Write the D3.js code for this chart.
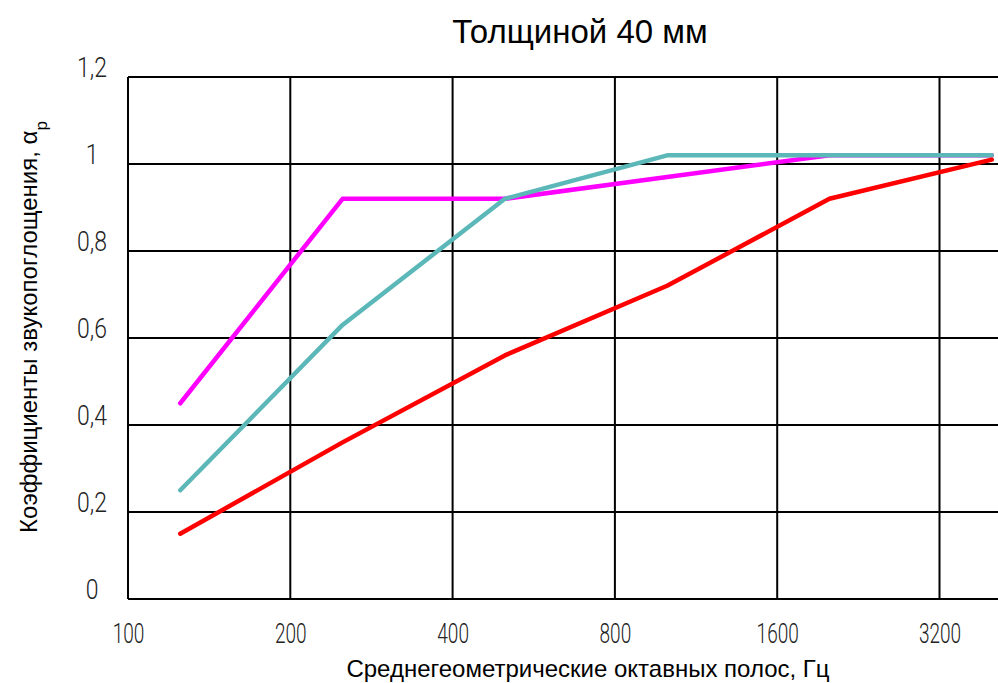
<!DOCTYPE html>
<html>
<head>
<meta charset="utf-8">
<script src="https://cdn.jsdelivr.net/npm/d3@7"></script>
<style>
  body { margin: 0; background: #fff; }
  svg { display: block; }
  .tick text { font-family: "Roboto", sans-serif; font-weight: 300; font-size: 28px; fill: #222; }
</style>
</head>
<body>
<svg></svg>
<script>
// frequencies, Hz
var freqs = [125, 250, 500, 1000, 2000, 4000];
var magentaVals = [0.45, 0.92, 0.92, 0.97, 1.02, 1.02];
var cyanVals = [0.25, 0.63, 0.92, 1.02, 1.02, 1.02];
var redVals = [0.15, 0.36, 0.56, 0.72, 0.92, 1.01];
var xTicks = [100, 200, 400, 800, 1600, 3200];
var yTicks = [0, 0.2, 0.4, 0.6, 0.8, 1, 1.2];

var svgwidth = 998;
var svgheight = 683;

var svg = d3.select('svg').attr('width', svgwidth).attr('height', svgheight);

var margins = { top: 77, bottom: 84, left: 128 };
var octave = 162.3;

var xScale = d3.scaleLog()
               .base(2)
               .domain([100, 6400])
               .range([margins.left, margins.left + 6 * octave]);

var yScale = d3.scaleLinear()
               .domain([0, 1.2])
               .range([svgheight - margins.bottom, margins.top]);

var fmt = function(d){ return String(d).replace('.', ','); };

// grid
var grid = svg.append('g').classed('grid', true);
grid.selectAll('line.h')
    .data(yTicks)
    .enter().append('line')
    .attr('x1', margins.left).attr('x2', svgwidth + 10)
    .attr('y1', function(d){ return yScale(d); })
    .attr('y2', function(d){ return yScale(d); })
    .attr('stroke', '#000').attr('stroke-width', 2);

grid.selectAll('line.v')
    .data(xTicks)
    .enter().append('line')
    .attr('x1', function(d){ return xScale(d); })
    .attr('x2', function(d){ return xScale(d); })
    .attr('y1', yScale(1.2)).attr('y2', yScale(0))
    .attr('stroke', '#000').attr('stroke-width', 2);

// axes (labels only)
var xAxis = d3.axisBottom(xScale).tickValues(xTicks).tickSize(0).tickPadding(0)
              .tickFormat(function(d){ return d; });
var gx = svg.append('g').classed('xAxis', true)
   .attr('transform', 'translate(0,' + 643 + ')')
   .call(xAxis);
gx.select('.domain').remove();
gx.selectAll('text').attr('dy', null).attr('y', 0).attr('transform', 'scale(0.68,1)');

var yAxis = d3.axisLeft(yScale).tickValues(yTicks).tickSize(0).tickPadding(0)
              .tickFormat(fmt);
var gy = svg.append('g').classed('yAxis', true)
   .attr('transform', 'translate(92,-1)')
   .call(yAxis);
gy.select('.domain').remove();
gy.selectAll('text').attr('dy', null).attr('x', 0).attr('text-anchor', 'middle')
  .attr('transform', 'scale(0.82,1)');

// lines
var series = [
  { vals: magentaVals, color: '#ff00ff' },
  { vals: cyanVals, color: '#5cb8b8' },
  { vals: redVals, color: '#ff0000' }
];

var line = d3.line()
             .x(function(d, i){ return xScale(freqs[i]); })
             .y(function(d){ return yScale(d); });

svg.append('g').selectAll('path')
   .data(series)
   .enter().append('path')
   .attr('d', function(d){ return line(d.vals); })
   .attr('fill', 'none')
   .attr('stroke', function(d){ return d.color; })
   .attr('stroke-width', 4.5)
   .attr('stroke-linejoin', 'round')
   .attr('stroke-linecap', 'round');

// titles
svg.append('text')
   .attr('x', 580).attr('y', 43)
   .attr('text-anchor', 'middle')
   .style('font-family', '"Liberation Sans", Arial, sans-serif')
   .style('font-size', '33px')
   .text('Толщиной 40 мм');

svg.append('text')
   .attr('x', 588).attr('y', 677)
   .attr('text-anchor', 'middle')
   .style('font-family', '"Liberation Sans", Arial, sans-serif')
   .style('font-size', '24px')
   .text('Среднегеометрические октавных полос, Гц');

var yt = svg.append('text')
   .attr('transform', 'translate(37,327) rotate(-90)')
   .attr('text-anchor', 'middle')
   .style('font-family', '"Liberation Sans", Arial, sans-serif')
   .style('font-size', '24px');
yt.append('tspan').text('Коэффициенты звукопоглощения, α');
yt.append('tspan').attr('baseline-shift', 'sub').style('font-size', '17px').text('p');
</script>
</body>
</html>
